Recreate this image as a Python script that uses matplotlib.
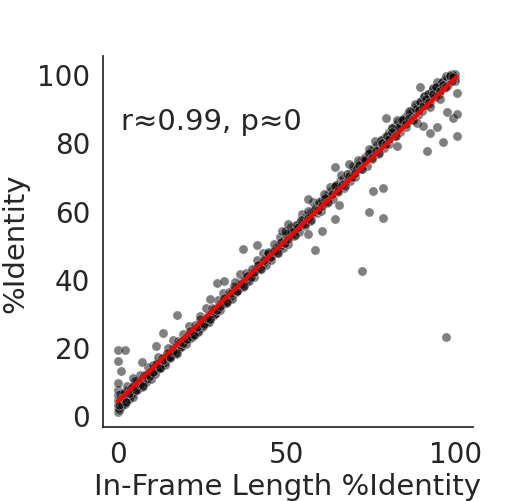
import numpy as np
import matplotlib
matplotlib.use("Agg")
import matplotlib.pyplot as plt
import seaborn as sns

# main band
band_x = [0, 0, 0, 0, 0, 0, 0.3, 0.5, 0.5, 0.8, 1, 1, 1.2, 1.5, 1.5, 2, 2, 2.3, 2.5, 3, 3, 3.4, 3.8, 4, 4.2, 4.6, 5, 5.3, 5.5, 6, 6.2, 6.7, 7, 7.3, 7.8, 8, 8.4, 8.8, 9.2, 9.6,
          10, 10.4, 10.8, 11.2, 11.5, 12, 12.3, 12.7, 13, 13.4, 13.8, 14.2, 14.6, 15, 15.3, 15.8, 16.2, 16.6, 17, 17.5, 18, 18.4, 18.8, 19.3, 19.7,
          20, 20.5, 21, 21.4, 21.8, 22.3, 22.7, 23.2, 23.6, 24, 24.5, 25, 25.4, 25.8, 26.3, 26.8, 27.2, 27.7, 28.1, 28.6, 29, 29.5,
          30, 30.5, 31, 31.4, 31.9, 32.3, 32.8, 33.2, 33.7, 34.1, 34.6, 35, 35.5, 36, 36.4, 36.9, 37.3, 37.8, 38.2, 38.7, 39.1, 39.6,
          40, 40.5, 41, 41.5, 41.9, 42.4, 42.8, 43.3, 43.7, 44.2, 44.6, 45.1, 45.5, 46, 46.4, 46.9, 47.3, 47.8, 48.2, 48.7, 49.1, 49.6,
          50, 50.5, 51, 51.4, 51.9, 52.3, 52.8, 53.2, 53.7, 54.1, 54.6, 55, 55.5, 56, 56.4, 56.9, 57.3, 57.8, 58.2, 58.7, 59.1, 59.6,
          60, 60.5, 61, 61.4, 61.9, 62.3, 62.8, 63.2, 63.7, 64.1, 64.6, 65, 65.5, 66, 66.4, 66.9, 67.3, 67.8, 68.2, 68.7, 69.1, 69.6,
          70, 70.5, 71, 71.4, 71.9, 72.3, 72.8, 73.2, 73.7, 74.1, 74.6, 75, 75.5, 76, 76.4, 76.9, 77.3, 77.8, 78.2, 78.7, 79.1, 79.6,
          80, 80.5, 81, 81.4, 81.9, 82.3, 82.8, 83.2, 83.7, 84.1, 84.6, 85, 85.5, 86, 86.4, 86.9, 87.3, 87.8, 88.2, 88.7, 89.1, 89.6,
          90, 90.4, 90.8, 91.2, 91.6, 92, 92.4, 92.8, 93.2, 93.6, 94, 94.4, 94.8, 95.2, 95.6, 96, 96.4, 96.8, 97.2, 97.6, 98, 98.4, 98.8, 99.2, 99.6, 100, 100, 100]
band_y = [1, 2, 3, 4.5, 6, 7.5, 2.2, 3, 5, 3.6, 2.5, 4.8, 6.5, 3.5, 5.5, 4, 6.2, 5, 7, 5, 7.5, 6, 6.5, 7.8, 6.3, 8.6, 7, 8.2, 10, 8, 9.6, 9, 10.5, 9.5, 10, 11.5, 10.6, 11, 12.4, 12,
          12.5, 13.8, 13, 14.5, 13.6, 15.6, 14.2, 15.8, 15, 16.8, 15.6, 17, 16.5, 18.2, 17.2, 17.8, 19.6, 18.4, 19.2, 20.5, 19.8, 21, 20.2, 21.8, 21.2,
          22, 22.8, 22.5, 24, 23.2, 24.6, 23.8, 25.6, 24.8, 26.2, 25.7, 27.2, 26.4, 27.8, 27.5, 29, 28.2, 29.6, 29.1, 30.5, 30, 31.2,
          31.4, 32.6, 32.4, 33.8, 33, 34.6, 34, 35.4, 35.2, 36.6, 35.9, 37.2, 37, 38.4, 37.8, 39, 38.6, 40, 39.4, 40.8, 40.2, 41.6,
          41.8, 42.8, 42.6, 44, 43.4, 44.8, 44.2, 45.6, 45.2, 46.6, 46, 47.4, 47, 48.2, 47.8, 49.2, 48.6, 50, 49.6, 50.8, 50.4, 51.8,
          52, 53, 52.6, 54, 53.4, 54.8, 54.4, 55.8, 55.2, 56.6, 56.2, 57.4, 57, 58.4, 58, 59.2, 58.8, 60.2, 59.8, 61, 60.6, 62,
          62, 63.2, 62.6, 64, 63.6, 64.8, 64.4, 65.8, 65.2, 66.8, 66.2, 67.4, 67, 68.6, 67.8, 69.2, 68.8, 70, 69.6, 71, 70.4, 71.8,
          72, 73, 72.6, 74, 73.6, 74.8, 74.4, 75.8, 75.2, 76.6, 76.2, 77.4, 77, 78.4, 78, 79.2, 78.8, 80.2, 79.8, 81, 80.6, 82,
          82.2, 83, 82.8, 84.2, 83.6, 84.8, 84.6, 86, 85.4, 86.6, 86.4, 87.6, 87.2, 88.4, 88.2, 89.2, 89, 90.2, 90, 91, 90.8, 92,
          92.2, 92.8, 92.6, 93.6, 93.2, 94.2, 94, 94.8, 94.6, 95.6, 95.4, 96.2, 96, 97, 96.8, 97.6, 97.4, 98.4, 98, 99, 98.8, 99.6, 99.2, 100, 99.6, 100, 99, 98]

# second pass over the band: the upper and lower edges
edge_x = [0.2, 0.6, 1.1, 1.7, 2.2, 2.8, 3.3, 3.9, 4.4, 5.1, 5.7, 6.4, 7.1, 7.7, 8.3, 9.0, 9.7,
          10.3, 11.0, 11.8, 12.5, 13.2, 14.0, 14.8, 15.5, 16.3, 17.1, 17.8, 18.6, 19.4,
          20.2, 21.1, 21.9, 22.8, 23.6, 24.4, 25.3, 26.1, 27.0, 27.8, 28.7, 29.6,
          30.3, 31.2, 32.0, 32.9, 33.8, 34.6, 35.4, 36.3, 37.1, 38.0, 38.9, 39.7,
          40.3, 41.2, 42.1, 42.9, 43.8, 44.6, 45.4, 46.3, 47.1, 48.0, 48.9, 49.7,
          50.3, 51.2, 52.1, 52.9, 53.8, 54.6, 55.4, 56.3, 57.1, 58.0, 58.9, 59.7,
          60.3, 61.2, 62.1, 62.9, 63.8, 64.6, 65.4, 66.3, 67.1, 68.0, 68.9, 69.7,
          70.3, 71.2, 72.1, 72.9, 73.8, 74.6, 75.4, 76.3, 77.1, 78.0, 78.9, 79.7,
          80.3, 81.2, 82.1, 82.9, 83.8, 84.6, 85.4, 86.3, 87.1, 88.0, 88.9, 89.7,
          90.2, 90.7, 91.4, 92.1, 92.7, 93.4, 94.0, 94.7, 95.3, 96.0, 96.6, 97.3, 97.9, 98.5, 99.0, 99.5]
edge_y = [1.5, 6.1, 3.0, 6.4, 3.3, 8.6, 4.8, 7.9, 5.4, 10.1, 7.4, 11.8, 8.2, 11.8, 9.8, 14.2, 10.7,
          14.6, 12.2, 17.2, 14.0, 16.9, 14.8, 19.6, 16.7, 22.0, 18.1, 21.8, 20.0, 23.8,
          20.9, 26.1, 23.1, 26.4, 24.3, 29.1, 26.3, 31.4, 27.4, 31.6, 29.8, 33.9,
          30.9, 36.0, 32.9, 36.2, 34.2, 39.1, 36.4, 41.4, 37.5, 41.8, 39.5, 43.0,
          40.5, 45.4, 42.8, 47.6, 44.1, 47.9, 45.4, 50.2, 47.6, 52.3, 49.2, 53.1,
          50.3, 55.3, 52.6, 55.8, 53.7, 58.9, 55.6, 59.8, 57.1, 62.5, 59.3, 62.5,
          59.9, 64.8, 62.2, 66.9, 63.5, 67.5, 65.6, 70.4, 66.6, 70.7, 68.8, 73.2,
          69.9, 74.9, 72.2, 75.2, 73.1, 78.0, 75.2, 80.4, 76.5, 80.8, 78.5, 82.0,
          79.5, 84.3, 81.8, 86.5, 83.1, 86.9, 84.4, 89.1, 86.6, 91.3, 88.2, 92.0,
          89.2, 93.7, 90.9, 94.2, 91.6, 96.0, 93.3, 97.8, 94.3, 97.8, 95.9, 99.5, 96.8, 99.8, 98.1, 99.9]

# third pass: the dark core of the band
core_x = [0.4, 1.4, 2.4, 3.4, 4.4, 5.4, 6.4, 7.4, 8.4, 9.4, 10.4, 11.4, 12.4, 13.4, 14.4, 15.4, 16.4, 17.4, 18.4, 19.4,
          20.4, 21.4, 22.4, 23.4, 24.4, 25.4, 26.4, 27.4, 28.4, 29.4, 30.4, 31.4, 32.4, 33.4, 34.4, 35.4, 36.4, 37.4, 38.4, 39.4,
          40.4, 41.4, 42.4, 43.4, 44.4, 45.4, 46.4, 47.4, 48.4, 49.4, 50.4, 51.4, 52.4, 53.4, 54.4, 55.4, 56.4, 57.4, 58.4, 59.4,
          60.4, 61.4, 62.4, 63.4, 64.4, 65.4, 66.4, 67.4, 68.4, 69.4, 70.4, 71.4, 72.4, 73.4, 74.4, 75.4, 76.4, 77.4, 78.4, 79.4,
          80.4, 81.4, 82.4, 83.4, 84.4, 85.4, 86.4, 87.4, 88.4, 89.4, 90.4, 91.4, 92.4, 93.4, 94.4, 95.4, 96.4, 97.4, 98.4, 99.4]
core_y = [2.9, 5.2, 4.0, 6.5, 8.7, 7.3, 9.1, 8.6, 11.7, 11.4, 12.6, 14.9, 13.8, 16.3, 18.4, 17.0, 18.9, 18.4, 21.4, 21.1,
          22.4, 24.7, 23.5, 26.0, 28.2, 26.8, 28.6, 28.1, 31.2, 30.9, 32.1, 34.4, 33.3, 35.8, 37.9, 36.5, 38.4, 37.9, 40.9, 40.6,
          41.9, 44.2, 43.0, 45.5, 47.7, 46.3, 48.1, 47.6, 50.7, 50.4, 51.6, 53.9, 52.8, 55.3, 57.4, 56.0, 57.9, 57.4, 60.4, 60.1,
          61.4, 63.7, 62.5, 65.0, 67.2, 65.8, 67.6, 67.1, 70.2, 69.9, 71.1, 73.4, 72.3, 74.8, 76.9, 75.5, 77.4, 76.9, 79.9, 79.6,
          80.9, 83.2, 82.0, 84.5, 86.7, 85.3, 87.1, 86.6, 89.7, 89.4, 90.6, 92.9, 91.8, 94.3, 96.4, 95.0, 96.9, 96.4, 99.4, 99.1]

# scattered points off the band
off_x = [0, 2, 0, 1, 0, 4.4, 7.2, 11.3, 13.3, 17.4, 27.3, 29.3, 31.3, 37.2, 41.3, 48.6, 49.6, 50.5,
         56.5, 56.5, 58.5, 60.4, 64.5, 64.5, 65.5, 68.4, 72.4, 74.6, 75.6, 78.5, 78.5, 79.5, 82.7,
         88.6, 89.6, 90.4, 91.6, 92.6, 92.6, 94.6, 95.5, 96.5, 97.3, 97.5, 99.5, 100.5, 100.5, 100.5]
off_y = [19, 19, 16, 13, 9.4, 10.8, 15.7, 20.3, 24, 29.3, 34, 38.7, 39.4, 48.7, 50, 54, 54, 56,
         63.3, 53.1, 48.5, 54, 72.9, 57.7, 61.6, 73.6, 42.2, 59.6, 65.8, 66.8, 57.9, 87.3, 79,
         85.8, 96.4, 84.8, 77.5, 90.3, 82.9, 84.4, 92.7, 80, 22.9, 88.8, 87.3, 94.6, 88.3, 81.9]

x = np.array(band_x + edge_x + core_x + off_x)
y = np.array(band_y + edge_y + core_y + off_y)

sns.set_style("white")
plt.rcParams["font.family"] = ["DejaVu Sans"]

fig = plt.figure(figsize=(5.22, 5.02), dpi=100)
ax = fig.add_axes([0.197, 0.147, 0.709, 0.739])

ax.scatter(x, y, s=44, color="black", alpha=0.5, edgecolor="white", linewidth=0.5)
sns.regplot(x=x, y=y, scatter=False, ci=None, color="red", line_kws={"lw": 3}, ax=ax)

ax.set_xlim(-4.5, 105.3)
ax.set_ylim(-3.5, 105.3)
ax.set_xticks([0, 50, 100])
ax.set_yticks([0, 20, 40, 60, 80, 100])
ax.tick_params(labelsize=20, colors="#262626", length=0)
ax.tick_params(axis="x", pad=9)
ax.tick_params(axis="y", pad=9)
ax.set_xlabel("In-Frame Length %Identity", fontsize=21, color="#262626", labelpad=3)
ax.set_ylabel("%Identity", fontsize=21, color="#262626", labelpad=6)
ax.text(0.049, 0.825, "r≈0.99, p≈0", transform=ax.transAxes, fontsize=21, color="#262626", va="center")
sns.despine(ax=ax)
for sp in ["left", "bottom"]:
    ax.spines[sp].set_color("#262626")
    ax.spines[sp].set_linewidth(1.25)

fig.savefig("out.png", dpi=100)
